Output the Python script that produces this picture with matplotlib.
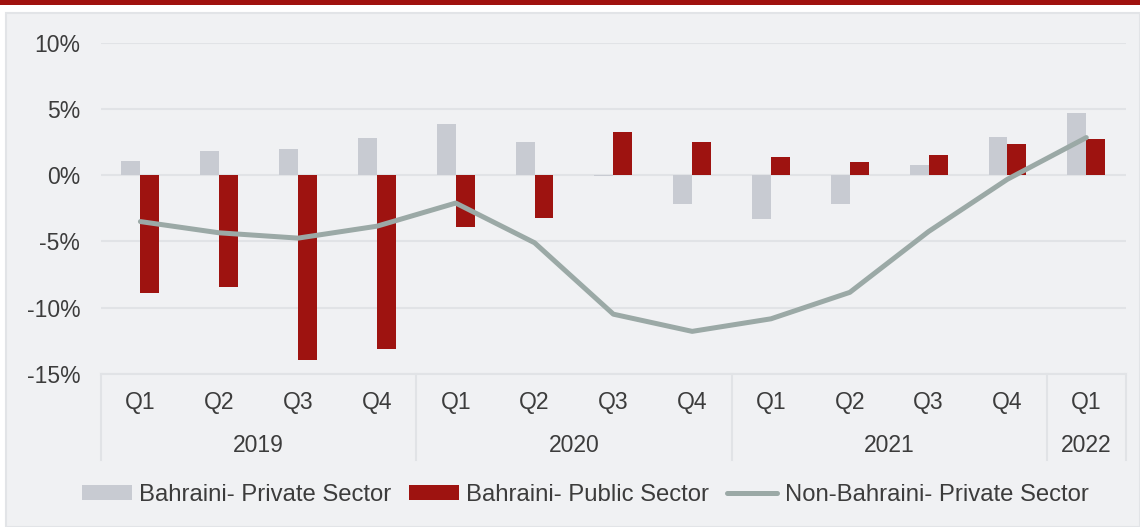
import matplotlib
matplotlib.use("Agg")
import matplotlib.pyplot as plt
from matplotlib.patches import Rectangle
from matplotlib.lines import Line2D
from matplotlib.ticker import FuncFormatter
import numpy as np

plt.rcParams['font.family'] = ['Liberation Sans', 'DejaVu Sans']

quarters = ["Q1", "Q2", "Q3", "Q4", "Q1", "Q2", "Q3", "Q4", "Q1", "Q2", "Q3", "Q4", "Q1"]
years = ["2019", "2020", "2021", "2022"]
year_counts = [4, 4, 4, 1]

bahraini_private = [1.1, 1.8, 2.0, 2.8, 3.9, 2.55, -0.05, -2.2, -3.3, -2.2, 0.75, 2.9, 4.7]
bahraini_public = [-8.9, -8.45, -13.95, -13.15, -3.9, -3.2, 3.3, 2.5, 1.4, 1.0, 1.5, 2.4, 2.75]
non_bahraini_private = [-3.5, -4.35, -4.75, -3.85, -2.1, -5.1, -10.5, -11.8, -10.85, -8.85, -4.25, -0.3, 2.85]

series_names = ["Bahraini- Private Sector", "Bahraini- Public Sector", "Non-Bahraini- Private Sector"]

C_GREY = "#C8CBD2"
C_RED = "#9E1310"
C_LINE = "#9BA9A6"
C_BG = "#F0F1F3"
C_GRID = "#E1E3E6"
C_TEXT = "#3C3C3C"
FS = 16.5
FS_LEG = 17.2

W, H = 1140, 527
fig = plt.figure(figsize=(W / 100, H / 100), dpi=100, facecolor="white")

# background panel and top band
fig.patches.append(Rectangle((6 / W, 0), 1 - 6 / W, 1 - 13 / H, transform=fig.transFigure,
                             facecolor=C_BG, edgecolor="#E2E4E7", linewidth=1.5, zorder=-10))
fig.patches.append(Rectangle((0, 1 - 4.5 / H), 1, 4.5 / H, transform=fig.transFigure,
                             facecolor="#A0120F", edgecolor="none", zorder=-9))

left, right, top, bottom = 101, 1125.7, 43, 373.7
ax = fig.add_axes([left / W, 1 - bottom / H, (right - left) / W, (bottom - top) / H])
ax.set_facecolor("none")

x = np.arange(len(quarters))
bw = 0.24
b1 = ax.bar(x - bw / 2, bahraini_private, width=bw, color=C_GREY, label=series_names[0], zorder=2)
b2 = ax.bar(x + bw / 2, bahraini_public, width=bw, color=C_RED, label=series_names[1], zorder=2)
l1, = ax.plot(x, non_bahraini_private, color=C_LINE, linewidth=3.6, solid_capstyle="round",
              solid_joinstyle="round", label=series_names[2], zorder=3)

ax.set_xlim(-0.5, len(quarters) - 0.5)
ax.set_ylim(-15, 10)
ax.set_yticks([10, 5, 0, -5, -10, -15])
ax.yaxis.set_major_formatter(FuncFormatter(lambda v, p: f"{int(round(v))}%"))
ax.tick_params(axis="y", length=0, pad=15, labelsize=FS, labelcolor=C_TEXT)
ax.set_xticks([])
ax.grid(axis="y", color=C_GRID, linewidth=1.5, zorder=0)
ax.set_axisbelow(True)
for s in ["left", "right", "top"]:
    ax.spines[s].set_visible(False)
ax.spines["bottom"].set_color(C_GRID)
ax.spines["bottom"].set_linewidth(1.5)

h = bottom - top
tr = ax.get_xaxis_transform()
yq = (bottom - 402) / h
yy = (bottom - 446) / h
ysep = (bottom - 460) / h
for i, q in enumerate(quarters):
    ax.text(i, yq, q, transform=tr, ha="center", va="center", fontsize=FS, color=C_TEXT)
start = 0
bounds = [0]
for yr, n in zip(years, year_counts):
    ax.text(start + (n - 1) / 2, yy, yr, transform=tr, ha="center", va="center",
            fontsize=FS, color=C_TEXT)
    start += n
    bounds.append(start)
for b in bounds:
    ax.add_line(Line2D([b - 0.5, b - 0.5], [0, ysep], transform=tr, color=C_GRID,
                       linewidth=1.5, clip_on=False))

leg = fig.legend([b1, b2, l1], series_names, loc="center", bbox_to_anchor=(585 / W, 1 - 495 / H),
                 ncol=3, frameon=False, fontsize=FS_LEG, handlelength=2.1, handleheight=0.55,
                 handletextpad=0.3, columnspacing=0.75, labelcolor=C_TEXT)

fig.savefig("out.png", dpi=100, facecolor="white")
